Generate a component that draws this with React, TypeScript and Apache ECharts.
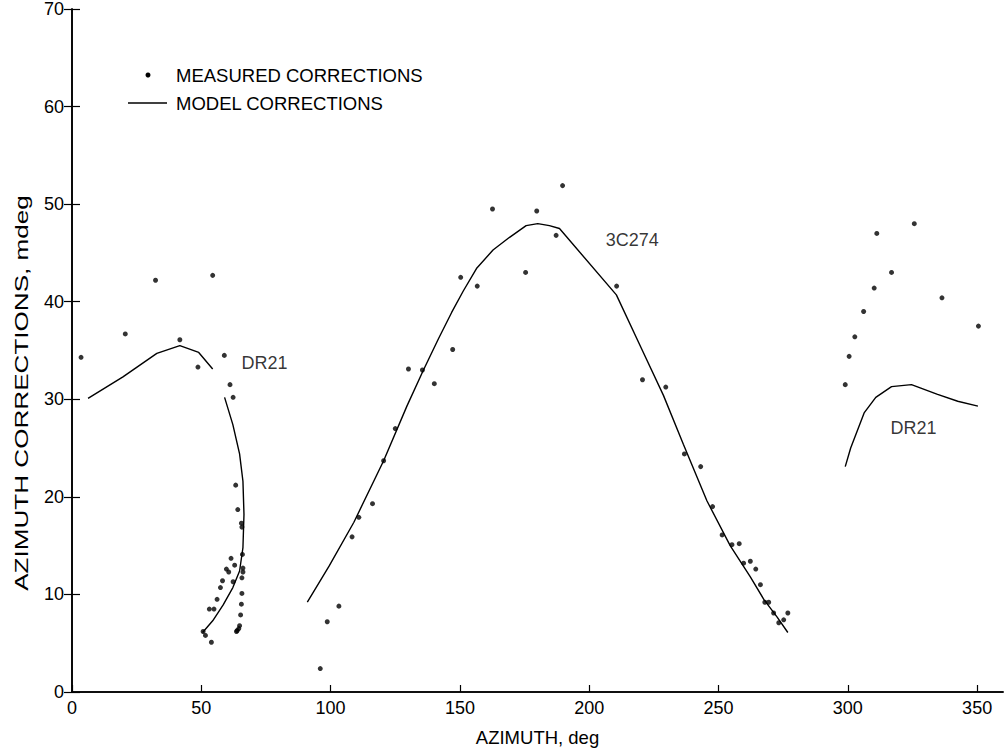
import React, { useEffect, useRef } from "react";
import * as echarts from "echarts";

// Axis ranges / ticks
const xMin = 0;
const xMax = 360;
const xInterval = 50;
const yMin = 0;
const yMax = 70;
const yInterval = 10;

// Measured corrections [azimuth deg, correction mdeg]
const measuredDR21Left: number[][] = [
  [3.5, 34.3], [20.6, 36.7], [32.3, 42.2], [41.7, 36.1], [48.7, 33.3], [54.4, 42.7],
  [58.9, 34.5], [61.1, 31.5], [62.3, 30.2], [63.3, 21.2], [64.1, 18.7], [65.5, 17.3],
  [65.7, 16.9], [65.9, 14.1], [61.5, 13.7], [62.9, 13.0], [59.7, 12.6], [60.6, 12.3],
  [66.1, 12.7], [66.1, 12.3], [65.7, 11.7], [58.2, 11.4], [62.3, 11.3], [57.4, 10.7],
  [65.7, 10.1], [56.1, 9.5], [65.5, 9.0], [53.1, 8.5], [54.9, 8.5], [65.2, 7.9],
  [64.8, 6.8], [64.5, 6.5], [63.6, 6.2], [63.9, 6.3], [50.7, 6.2], [51.6, 5.8], [53.9, 5.1],
];
const measured3C274: number[][] = [
  [96.0, 2.4], [98.7, 7.2], [103.2, 8.8], [108.3, 15.9], [110.9, 17.9], [116.2, 19.3],
  [120.5, 23.7], [125.0, 27.0], [130.1, 33.1], [135.5, 33.0], [140.1, 31.6], [147.2, 35.1],
  [150.3, 42.5], [156.7, 41.6], [162.6, 49.5], [175.4, 43.0], [179.7, 49.3], [187.2, 46.8],
  [189.7, 51.9], [210.6, 41.6], [220.6, 32.0], [229.6, 31.25], [236.8, 24.4], [243.1, 23.1],
  [247.7, 19.0], [251.4, 16.1], [255.2, 15.1], [258.0, 15.2], [259.7, 13.2], [262.3, 13.4],
  [264.4, 12.6], [266.2, 11.0], [267.9, 9.2], [269.4, 9.2], [271.3, 8.1], [273.3, 7.1],
  [275.2, 7.4], [276.8, 8.1],
];
const measuredDR21Right: number[][] = [
  [299.0, 31.5], [300.5, 34.4], [302.7, 36.4], [306.1, 39.0], [310.2, 41.4], [316.9, 43.0],
  [311.2, 47.0], [325.7, 48.0], [336.4, 40.4], [350.5, 37.5],
];

// Model corrections (curves)
const modelDR21LeftA: number[][] = [
  [6.2, 30.1], [19.7, 32.3], [32.8, 34.7], [41.7, 35.5], [49.0, 34.8], [54.4, 33.1],
];
const modelDR21LeftB: number[][] = [
  [59.0, 30.2], [62.2, 27.4], [64.8, 24.4], [66.1, 21.6], [66.5, 18.2], [66.1, 14.8],
  [64.8, 12.4], [62.2, 10.7], [58.4, 8.9], [54.4, 7.3], [50.5, 6.1],
];
const model3C274: number[][] = [
  [91.0, 9.2], [99.4, 12.9], [109.0, 17.4], [120.5, 23.7], [129.5, 29.3], [135.9, 33.0],
  [141.7, 36.2], [146.8, 38.9], [151.3, 41.1], [156.4, 43.4], [162.8, 45.3], [169.2, 46.6],
  [175.6, 47.8], [180.1, 48.0], [184.6, 47.8], [188.5, 47.5], [210.5, 40.7], [220.2, 35.2],
  [228.7, 30.4], [236.4, 25.4], [245.5, 19.6], [254.5, 15.0], [262.3, 11.8], [267.5, 9.5],
  [272.6, 7.7], [276.8, 6.1],
];
const modelDR21Right: number[][] = [
  [299.0, 23.1], [301.1, 25.0], [306.3, 28.6], [310.8, 30.2], [316.9, 31.3], [324.6, 31.5],
  [334.7, 30.5], [342.5, 29.8], [350.3, 29.3],
];

// Source annotations
const sourceNames = ["DR21", "3C274", "DR21"];
const sourcePositions: number[][] = [[65.5, 33.7], [206.4, 46.3], [316.5, 27.1]];

const xTitle = "AZIMUTH, deg";
const yTitle = "AZIMUTH CORRECTIONS, mdeg";
const legendMeasured = "MEASURED CORRECTIONS";
const legendModel = "MODEL CORRECTIONS";

const FONT = "'Liberation Sans', Arial, Helvetica, sans-serif";

export default function App() {
  const ref = useRef<HTMLDivElement>(null);
  useEffect(() => {
    if (!ref.current) return;
    const chart = echarts.init(ref.current, null, { renderer: "svg" });
    const axisLineStyle = { color: "#000", width: 1.6 };
    const lineSeries = (data: number[][]) => ({
      type: "line",
      data,
      showSymbol: false,
      symbol: "none",
      lineStyle: { color: "#000", width: 1.4 },
      silent: true,
      z: 2,
    });
    const scatterSeries = (data: number[][]) => ({
      type: "scatter",
      data,
      symbol: "circle",
      symbolSize: 5,
      itemStyle: { color: "#000" },
      silent: true,
      z: 3,
    });
    chart.setOption({
      animation: false,
      backgroundColor: "#fff",
      textStyle: { fontFamily: FONT, color: "#000" },
      grid: { left: 72, top: 7, width: 931, height: 685, containLabel: false },
      xAxis: [
        {
          type: "value",
          min: xMin,
          max: xMax,
          interval: xInterval,
          position: "bottom",
          axisLine: { show: true, lineStyle: axisLineStyle },
          axisTick: { show: true, inside: true, length: 7, lineStyle: { color: "#000", width: 1.2 } },
          axisLabel: { color: "#000", fontSize: 18, margin: 7, showMaxLabel: false, fontFamily: FONT },
          splitLine: { show: false },
          name: xTitle,
          nameLocation: "middle",
          nameGap: 36,
          nameTextStyle: { fontSize: 18.5, color: "#000", fontFamily: FONT },
        },
        {
          type: "value",
          min: xMin,
          max: xMax,
          interval: xInterval,
          position: "top",
          axisLine: { show: true, lineStyle: axisLineStyle },
          axisTick: { show: false },
          axisLabel: { show: false },
          splitLine: { show: false },
        },
      ],
      yAxis: [
        {
          type: "value",
          min: yMin,
          max: yMax,
          interval: yInterval,
          position: "left",
          axisLine: { show: true, lineStyle: axisLineStyle },
          axisTick: { show: true, inside: true, length: 8, lineStyle: { color: "#000", width: 1.2 } },
          axisLabel: { color: "#000", fontSize: 18, margin: 8, fontFamily: FONT },
          splitLine: { show: false },
        },
        {
          type: "value",
          min: yMin,
          max: yMax,
          interval: yInterval,
          position: "right",
          axisLine: { show: true, lineStyle: axisLineStyle },
          axisTick: { show: true, inside: true, length: 8, lineStyle: { color: "#000", width: 1.2 } },
          axisLabel: { show: false },
          splitLine: { show: false },
        },
      ],
      graphic: [
        {
          type: "text",
          x: 22,
          y: 393,
          rotation: Math.PI / 2,
          scaleX: 1.45,
          scaleY: 1,
          style: {
            text: yTitle,
            fontSize: 18,
            fontFamily: FONT,
            fill: "#000",
            align: "center",
            verticalAlign: "middle",
          },
        },
        { type: "circle", shape: { cx: 148, cy: 75, r: 2.5 }, style: { fill: "#000" } },
        {
          type: "text",
          x: 176,
          y: 75,
          style: { text: legendMeasured, fontSize: 18.5, fontFamily: FONT, fill: "#000", verticalAlign: "middle" },
        },
        {
          type: "line",
          shape: { x1: 128, y1: 103, x2: 167, y2: 103 },
          style: { stroke: "#000", lineWidth: 1.4 },
        },
        {
          type: "text",
          x: 176,
          y: 103,
          style: { text: legendModel, fontSize: 18.5, fontFamily: FONT, fill: "#000", verticalAlign: "middle" },
        },
      ],
      series: [
        lineSeries(modelDR21LeftA),
        lineSeries(modelDR21LeftB),
        lineSeries(model3C274),
        lineSeries(modelDR21Right),
        scatterSeries(measuredDR21Left),
        scatterSeries(measured3C274),
        scatterSeries(measuredDR21Right),
        {
          type: "scatter",
          data: sourceNames.map((n, i) => ({ name: n, value: sourcePositions[i] })),
          symbolSize: 0,
          silent: true,
          label: {
            show: true,
            position: "right",
            distance: 0,
            formatter: "{b}",
            fontSize: 18,
            fontFamily: FONT,
            color: "#000",
          },
        },
      ],
    });
    return () => chart.dispose();
  }, []);
  return (
    <div
      ref={ref}
      style={{ position: "absolute", left: 0, top: 0, width: 1005, height: 753, background: "#fff" }}
    />
  );
}
